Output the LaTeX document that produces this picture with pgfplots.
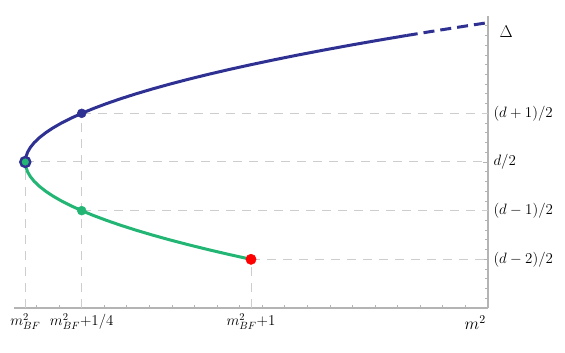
\RequirePackage{fix-cm}
\documentclass[border=0pt]{standalone}
\usepackage{pgfplots}
\pgfplotsset{compat=1.18}
\definecolor{cblue}{RGB}{46,49,146}
\definecolor{cgreen}{RGB}{34,181,115}
\definecolor{cred}{RGB}{255,0,0}
\definecolor{cgrid}{RGB}{205,205,205}
\definecolor{caxis}{RGB}{180,180,180}
\begin{document}
\begin{tikzpicture}
\useasboundingbox (-14pt,-45pt) rectangle (551pt,308pt);
\begin{axis}[
  at={(0pt,0pt)}, anchor=south west,
  scale only axis, width=474pt, height=292pt,
  xmin=-2.3, xmax=-0.2, ymin=0, ymax=3,
  axis x line*=bottom, axis y line*=right,
  axis line style={caxis, line width=1.3pt},
  tick align=inside,
  major tick length=5pt, minor tick length=3pt,
  every tick/.style={caxis, line width=0.8pt},
  xtick={-2.25,-2,-1.25},
  xticklabels={$m^2_{BF}$, $m^2_{BF}{+}1/4$, $m^2_{BF}{+}1$},
  minor xtick={-2.2,-2.1,-1.9,-1.8,-1.7,-1.6,-1.5,-1.4,-1.3,-1.2,-1.1,-1.0,-0.9,-0.8,-0.7,-0.6,-0.5,-0.4,-0.3},
  ytick={0.5,1,1.5,2},
  yticklabels={$(d-2)/2$, $(d-1)/2$, $d/2$, $(d+1)/2$},
  minor ytick={0.1,0.2,0.3,0.4,0.6,0.7,0.8,0.9,1.1,1.2,1.3,1.4,1.6,1.7,1.8,1.9,2.1,2.2,2.3,2.4,2.5,2.6,2.7,2.8,2.9},
  tick label style={font=\fontsize{15}{18}\selectfont, text=black},
  xticklabel style={yshift=-2pt, inner xsep=1pt},
  yticklabel style={xshift=2pt},
  clip=false,
]
% grid guides
\addplot[cgrid, line width=1pt, dash pattern=on 9pt off 7pt] coordinates {(-2.25,1.5) (-0.2,1.5)};
\addplot[cgrid, line width=1pt, dash pattern=on 9pt off 7pt] coordinates {(-2.25,0) (-2.25,1.5)};
\addplot[cgrid, line width=1pt, dash pattern=on 9pt off 7pt] coordinates {(-2,2) (-0.2,2)};
\addplot[cgrid, line width=1pt, dash pattern=on 9pt off 7pt] coordinates {(-2,0) (-2,2)};
\addplot[cgrid, line width=1pt, dash pattern=on 9pt off 7pt] coordinates {(-2,1) (-0.2,1)};
\addplot[cgrid, line width=1pt, dash pattern=on 9pt off 7pt] coordinates {(-1.25,0.5) (-0.2,0.5)};
\addplot[cgrid, line width=1pt, dash pattern=on 9pt off 7pt] coordinates {(-1.25,0) (-1.25,0.5)};
% upper branch (solid)
\addplot[cblue, line width=3pt, line join=round] coordinates {
(-2.25,1.5) (-2.2475,1.55) (-2.24,1.6) (-2.2275,1.65) (-2.21,1.7) (-2.1875,1.75)
(-2.16,1.8) (-2.1275,1.85) (-2.09,1.9) (-2.0475,1.95) (-2.0,2.0) (-1.9475,2.05)
(-1.89,2.1) (-1.8275,2.15) (-1.76,2.2) (-1.6875,2.25) (-1.61,2.3) (-1.5275,2.35)
(-1.44,2.4) (-1.3475,2.45) (-1.25,2.5) (-1.1475,2.55) (-1.04,2.6) (-0.9275,2.65)
(-0.81,2.7) (-0.6875,2.75) (-0.56,2.8)};
% upper branch (dashed)
\addplot[cblue, line width=3pt, dash pattern=on 11pt off 6pt] coordinates {
(-0.56,2.8) (-0.4275,2.85) (-0.29,2.9) (-0.2,2.9318)};
% lower branch
\addplot[cgreen, line width=3pt, line join=round] coordinates {
(-2.25,1.5) (-2.2475,1.45) (-2.24,1.4) (-2.2275,1.35) (-2.21,1.3) (-2.1875,1.25)
(-2.16,1.2) (-2.1275,1.15) (-2.09,1.1) (-2.0475,1.05) (-2.0,1.0) (-1.9475,0.95)
(-1.89,0.9) (-1.8275,0.85) (-1.76,0.8) (-1.6875,0.75) (-1.61,0.7) (-1.5275,0.65)
(-1.44,0.6) (-1.3475,0.55) (-1.25,0.5)};
% markers
\addplot[only marks, mark=*, mark size=4.5pt, color=cblue] coordinates {(-2,2)};
\addplot[only marks, mark=*, mark size=4.5pt, color=cgreen] coordinates {(-2,1)};
\addplot[only marks, mark=*, mark size=5.2pt, color=cred] coordinates {(-1.25,0.5)};
\addplot[only marks, mark=*, mark size=5pt, mark options={draw=cblue, fill=cgreen, line width=2.4pt}] coordinates {(-2.25,1.5)};
% axis labels
\node[anchor=west, font=\fontsize{17}{20}\selectfont] at (rel axis cs:1,0.945) [xshift=8pt] {$\Delta$};
\node[anchor=north, font=\fontsize{17}{20}\selectfont] at (rel axis cs:0.973,0) [yshift=-4pt] {$m^2$};
\end{axis}
\end{tikzpicture}
\end{document}
